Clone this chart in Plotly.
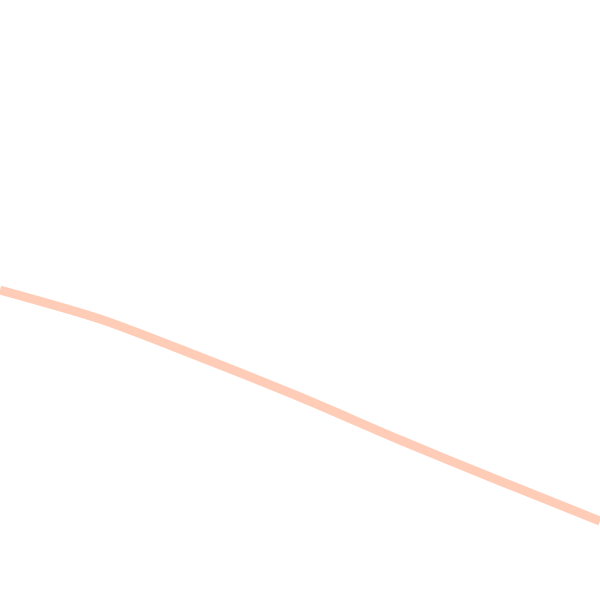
import plotly.graph_objs as go

# points along the single line
x = [0, 100, 200, 300, 400, 500, 600]
y = [310, 281, 243, 203, 160, 119, 79]

fig = go.Figure(data=[go.Scatter(
    x=x, y=y, mode="lines",
    line=dict(color="rgba(255,178,145,0.65)", width=9, shape="spline", smoothing=0.8),
    hoverinfo="skip",
)])

fig.update_layout(
    width=600, height=600,
    margin=dict(l=0, r=0, t=0, b=0),
    paper_bgcolor="white", plot_bgcolor="white",
    showlegend=False,
    xaxis=dict(range=[0, 600], visible=False),
    yaxis=dict(range=[0, 600], visible=False),
)

# drop the page's default body margin so the plot sits at the window corner
fig.write_html(
    "out.html",
    config={"displayModeBar": False},
    post_script="document.body.style.margin='0';",
)
